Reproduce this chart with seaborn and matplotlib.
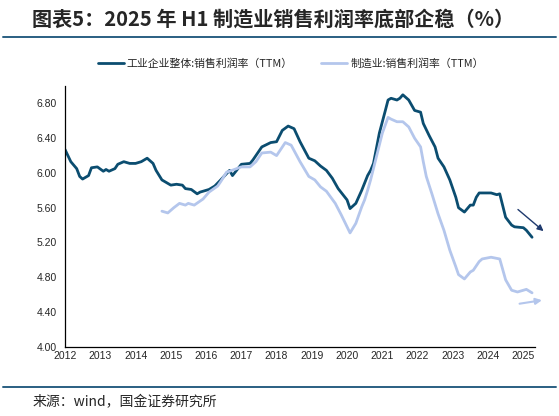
import matplotlib.pyplot as plt
import matplotlib.dates as mdates
import pandas as pd
import seaborn as sns

# 工业企业整体:销售利润率（TTM）
total_dates = [
    "2012-01", "2012-03", "2012-05", "2012-06", "2012-07", "2012-09", "2012-10", "2012-12",
    "2013-02", "2013-03", "2013-04", "2013-06", "2013-07", "2013-09", "2013-11",
    "2014-01", "2014-03", "2014-05", "2014-07", "2014-08", "2014-10",
    "2015-01", "2015-03", "2015-05", "2015-06", "2015-08", "2015-10", "2015-11",
    "2016-02", "2016-04", "2016-06", "2016-09", "2016-10",
    "2017-01", "2017-04", "2017-05", "2017-08", "2017-11",
    "2018-01", "2018-03", "2018-05", "2018-07", "2018-09", "2018-12",
    "2019-02", "2019-04", "2019-06", "2019-08", "2019-10",
    "2020-01", "2020-02", "2020-04", "2020-06", "2020-08", "2020-09", "2020-10", "2020-12",
    "2021-02", "2021-03", "2021-04", "2021-06", "2021-07", "2021-08", "2021-10", "2021-12",
    "2022-02", "2022-03", "2022-05", "2022-07", "2022-08", "2022-10", "2022-12",
    "2023-02", "2023-03", "2023-05", "2023-07", "2023-08", "2023-09", "2023-10",
    "2024-02", "2024-04", "2024-05", "2024-07", "2024-09", "2024-10",
    "2025-01", "2025-02", "2025-04",
]
total_values = [
    6.27, 6.13, 6.05, 5.96, 5.93, 5.97, 6.06, 6.07,
    6.02, 6.04, 6.02, 6.05, 6.10, 6.13, 6.11,
    6.11, 6.13, 6.17, 6.11, 6.03, 5.92,
    5.86, 5.87, 5.86, 5.82, 5.81, 5.76, 5.78,
    5.81, 5.85, 5.92, 6.03, 5.97,
    6.10, 6.11, 6.15, 6.30, 6.35,
    6.36, 6.49, 6.54, 6.51, 6.36, 6.17,
    6.14, 6.08, 6.03, 5.94, 5.82,
    5.69, 5.59, 5.65, 5.80, 5.97, 6.03, 6.11, 6.46,
    6.72, 6.84, 6.86, 6.84, 6.86, 6.90, 6.84, 6.72,
    6.70, 6.57, 6.43, 6.30, 6.17, 6.07, 5.92,
    5.72, 5.60, 5.55, 5.63, 5.63, 5.72, 5.77,
    5.77, 5.75, 5.76, 5.49, 5.40, 5.38,
    5.37, 5.34, 5.26,
]

# 制造业:销售利润率（TTM）
mfg_dates = [
    "2014-10", "2014-12",
    "2015-02", "2015-04", "2015-06", "2015-07", "2015-09", "2015-12",
    "2016-02", "2016-05", "2016-06", "2016-08", "2016-09",
    "2017-01", "2017-04", "2017-06", "2017-08", "2017-11",
    "2018-01", "2018-04", "2018-06", "2018-09", "2018-12",
    "2019-02", "2019-04", "2019-06", "2019-09", "2019-11",
    "2020-02", "2020-04", "2020-06", "2020-07", "2020-08", "2020-09", "2020-11",
    "2021-01", "2021-03", "2021-04", "2021-06", "2021-08", "2021-10", "2021-12",
    "2022-02", "2022-03", "2022-04", "2022-06", "2022-08", "2022-10", "2022-12",
    "2023-02", "2023-03", "2023-05", "2023-07", "2023-08", "2023-10", "2023-11",
    "2024-02", "2024-05", "2024-07", "2024-09", "2024-11",
    "2025-02", "2025-04",
]
mfg_values = [
    5.56, 5.54,
    5.60, 5.65, 5.63, 5.65, 5.63, 5.70,
    5.78, 5.85, 5.90, 6.01, 6.02,
    6.07, 6.07, 6.13, 6.23, 6.24,
    6.20, 6.35, 6.32, 6.13, 5.96,
    5.92, 5.84, 5.79, 5.65, 5.52,
    5.31, 5.42, 5.61, 5.69, 5.80, 5.92, 6.19,
    6.46, 6.64, 6.62, 6.59, 6.59, 6.53, 6.40,
    6.30, 6.13, 5.96, 5.75, 5.53, 5.34, 5.11,
    4.92, 4.83, 4.78, 4.86, 4.88, 4.98, 5.01,
    5.03, 5.01, 4.77, 4.65, 4.63,
    4.66, 4.62,
]

total_name = "工业企业整体:销售利润率（TTM）"
mfg_name = "制造业:销售利润率（TTM）"
y_ticks = [4.00, 4.40, 4.80, 5.20, 5.60, 6.00, 6.40, 6.80]
x_years = list(range(2012, 2026))

dark = "#0b4d70"
light = "#b4c6ec"
cjk = ["Noto Sans CJK SC", "DejaVu Sans"]

df = pd.concat([
    pd.DataFrame({"date": pd.to_datetime(total_dates), "value": total_values, "series": total_name}),
    pd.DataFrame({"date": pd.to_datetime(mfg_dates), "value": mfg_values, "series": mfg_name}),
])

sns.set_theme(style="white")
plt.rcParams["font.family"] = ["Liberation Sans", "Noto Sans CJK SC", "DejaVu Sans"]

fig = plt.figure(figsize=(5.59, 4.16), dpi=100)
ax = fig.add_axes([0.1163, 0.1666, 0.8407, 0.6264])

sns.lineplot(data=df, x="date", y="value", hue="series", palette=[dark, light],
             linewidth=2.0, ax=ax, legend=False)

ax.set_xlim(pd.Timestamp("2012-01-01"), pd.Timestamp("2025-05-01"))
ax.set_ylim(4.0, 7.0)
ax.set_yticks(y_ticks)
ax.set_yticklabels([f"{v:.2f}" for v in y_ticks])
ax.set_xticks([pd.Timestamp(f"{y}-01-01") for y in x_years])
ax.xaxis.set_major_formatter(mdates.DateFormatter("%Y"))
ax.set_xlabel("")
ax.set_ylabel("")
ax.tick_params(axis="x", direction="in", length=3, width=0.8, color="black",
               labelsize=7.5, pad=3)
ax.tick_params(axis="y", length=0, labelsize=7.5, pad=6)
for s in ["top", "right"]:
    ax.spines[s].set_visible(False)
for s in ["left", "bottom"]:
    ax.spines[s].set_color("black")
    ax.spines[s].set_linewidth(0.9)

# trend arrows
ax.annotate("", xy=(pd.Timestamp("2025-08-20"), 5.31), xytext=(pd.Timestamp("2024-10-15"), 5.60),
            arrowprops=dict(arrowstyle="-|>", color="#1f3a6e", lw=1.0, mutation_scale=9),
            annotation_clip=False)
ax.annotate("", xy=(pd.Timestamp("2025-08-10"), 4.54), xytext=(pd.Timestamp("2024-10-25"), 4.49),
            arrowprops=dict(arrowstyle="-|>", color=light, lw=1.5, mutation_scale=9),
            annotation_clip=False)

# legend
handles = [plt.Line2D([], [], color=dark, lw=2.0), plt.Line2D([], [], color=light, lw=2.0)]
fig.legend(handles, [total_name, mfg_name], loc="center", bbox_to_anchor=(0.52, 0.848),
           ncol=2, frameon=False, handlelength=2.4, columnspacing=2.6,
           handletextpad=0.3, prop={"family": cjk, "size": 7.8})

# title, rules, source
fig.text(0.058, 0.955, "图表5：2025 年 H1 制造业销售利润率底部企稳（%）", fontsize=14.5,
         fontweight="bold", va="center", ha="left", family=cjk)
fig.add_artist(plt.Line2D([0.005, 0.995], [0.911, 0.911], color="#2a5f82", lw=1.4))
fig.add_artist(plt.Line2D([0.005, 0.995], [0.07, 0.07], color="#2a5f82", lw=1.4))
fig.text(0.058, 0.034, "来源：wind，国金证券研究所", fontsize=10, va="center", ha="left",
         family=cjk)

fig.savefig("out.png", dpi=100)
